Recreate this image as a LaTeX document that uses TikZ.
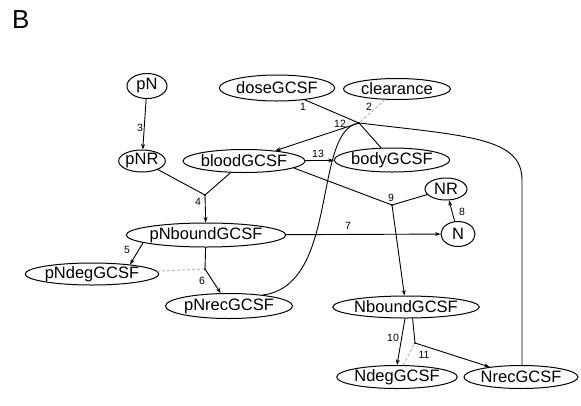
\documentclass[tikz,border=0pt]{standalone}
\usepackage{fontspec}
\setmainfont{Liberation Sans}
\usetikzlibrary{shapes.geometric,arrows.meta}
\begin{document}
\begin{tikzpicture}[x=1pt,y=-1pt,
  sp/.style={ellipse,draw,line width=1pt,inner sep=0pt,font=\fontsize{16.5}{18}\selectfont},
  lab/.style={font=\fontsize{10.5}{11}\selectfont,inner sep=0pt},
  edge/.style={line width=0.9pt},
  arr/.style={edge,-{Stealth[length=5.5pt,width=4pt]}},
  inh/.style={line width=1pt,gray!55,dash pattern=on 3pt off 2pt},
  jdot/.style={circle,fill,inner sep=0pt,minimum size=2pt}]
\useasboundingbox (0,0) rectangle (581,405);
\node[font=\fontsize{26}{28}\selectfont,inner sep=0pt,anchor=base west] (B) at (12,28) {B};
% species
\node[sp,minimum width=40pt,minimum height=25pt] (pN) at (147,86) {pN};
\node[sp,minimum width=113pt,minimum height=26pt] (doseGCSF) at (277,88) {doseGCSF};
\node[sp,minimum width=107pt,minimum height=21pt] (clearance) at (397,89) {clearance};
\node[sp,minimum width=45pt,minimum height=22pt] (pNR) at (142,161) {pNR};
\node[sp,minimum width=118pt,minimum height=23pt] (bloodGCSF) at (244,161) {bloodGCSF};
\node[sp,minimum width=109pt,minimum height=24pt] (bodyGCSF) at (392,160) {bodyGCSF};
\node[sp,minimum width=42pt,minimum height=22pt] (NR) at (446,189) {NR};
\node[sp,minimum width=34pt,minimum height=25pt] (N) at (458,234) {N};
\node[sp,minimum width=152pt,minimum height=24pt] (pNboundGCSF) at (206,235) {pNboundGCSF};
\node[sp,minimum width=130pt,minimum height=22pt] (pNdegGCSF) at (92,274) {pNdegGCSF};
\node[sp,minimum width=122pt,minimum height=25pt] (pNrecGCSF) at (229,306) {pNrecGCSF};
\node[sp,minimum width=140pt,minimum height=22pt] (NboundGCSF) at (406,307) {NboundGCSF};
\node[sp,minimum width=120pt,minimum height=23pt] (NdegGCSF) at (397,377) {NdegGCSF};
\node[sp,minimum width=113pt,minimum height=23pt] (NrecGCSF) at (521,377) {NrecGCSF};
% junctions
\coordinate (j12) at (359,123);
\coordinate (j4) at (205,195);
\coordinate (j6) at (205,269);
\coordinate (j9) at (392,205);
\coordinate (j11) at (415,343);
% reaction 1,2,12
\draw[edge] (doseGCSF) -- (j12);
\draw[inh] (clearance) -- (j12);
\draw[edge] (j12) -- (bodyGCSF);
\draw[arr] (j12) -- (bloodGCSF);
\draw[edge] (j12) .. controls (470,136) and (522,138) .. (522,180) -- (NrecGCSF.north -| 522,0);
\draw[edge] (pNrecGCSF.18) .. controls (340,285) and (312,130) .. (j12);
% 3
\draw[arr] (pN) -- (pNR);
% 4
\draw[edge] (pNR) -- (j4);
\draw[edge] (bloodGCSF) -- (j4);
\draw[arr] (j4) -- (pNboundGCSF);
% 5
\draw[arr] (pNboundGCSF.187) -- (pNdegGCSF.14);
% 6
\draw[edge] (pNboundGCSF) -- (j6);
\draw[inh] (pNdegGCSF) -- (j6);
\draw[arr] (j6) -- (pNrecGCSF);
% 7
\draw[arr] (pNboundGCSF) -- (N);
% 8
\draw[arr] (N) -- (NR);
% 9
\draw[edge] (bloodGCSF.-8) -- (j9);
\draw[edge] (NR) -- (j9);
\draw[arr] (j9) -- (NboundGCSF);
% 10
\draw[arr] (NboundGCSF.265) -- (NdegGCSF.north);
% 11
\draw[edge] (NboundGCSF.-60) -- (j11);
\draw[inh] (NdegGCSF) -- (j11);
\draw[arr] (j11) -- (NrecGCSF);
% 13
\draw[arr] (bloodGCSF) -- (bodyGCSF);
% junction dots
\foreach \j in {j12,j4,j6,j9,j11} \node[jdot] (d\j) at (\j) {};
% labels
\node[lab] (l1) at (303,107) {1};
\node[lab] (l2) at (369,107) {2};
\node[lab] (l12) at (340,124) {12};
\node[lab] (l13) at (318,154) {13};
\node[lab] (l3) at (140,128) {3};
\node[lab] (l4) at (198,202) {4};
\node[lab] (l5) at (127,250) {5};
\node[lab] (l6) at (202,281) {6};
\node[lab] (l7) at (348,226) {7};
\node[lab] (l8) at (462,212) {8};
\node[lab] (l9) at (391,198) {9};
\node[lab] (l10) at (393,338) {10};
\node[lab] (l11) at (424,355) {11};
\end{tikzpicture}
\end{document}
